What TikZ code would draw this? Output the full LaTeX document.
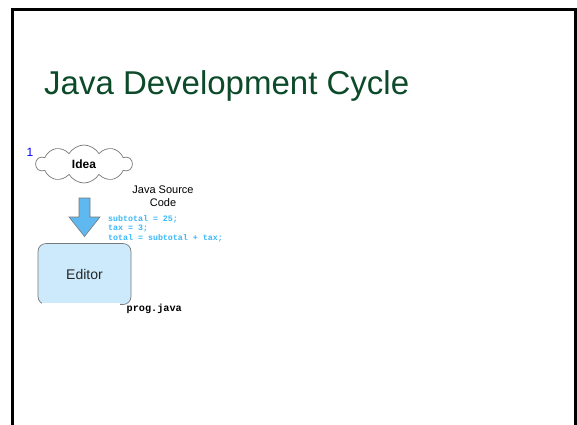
\documentclass[tikz,border=0pt]{standalone}
\usepackage{fontspec}
\setmainfont{Liberation Sans}
\setmonofont{Liberation Mono}
\usetikzlibrary{shapes.symbols}
\definecolor{titlegreen}{RGB}{12,74,42}
\definecolor{codeblue}{RGB}{60,185,250}
\definecolor{arrowblue}{RGB}{95,185,240}
\definecolor{editorfill}{RGB}{204,234,252}
\definecolor{edgegray}{RGB}{120,120,120}
\begin{document}
\begin{tikzpicture}[x=1pt,y=-1pt,
  codetext/.style={font=\ttfamily\bfseries\fontsize{8.3}{10}\selectfont, text=codeblue, anchor=west, inner sep=0pt},
  ideacloud/.style={cloud, cloud puffs=10, cloud puff arc=120, aspect=2.6, draw=edgegray, fill=white, line width=0.7pt, minimum width=96pt, minimum height=38pt, inner sep=0pt},
  editorbox/.style={draw=edgegray, fill=editorfill, rounded corners=8pt, line width=0.7pt, minimum width=93pt, minimum height=61pt, inner sep=0pt}]
\useasboundingbox (0,0) rectangle (577,424);
\fill[white] (0,0) rectangle (577,424);
% frame
\draw[line width=3pt] (12.5,430) -- (12.5,9.5) -- (575.5,9.5) -- (575.5,430);
% title
\node[anchor=base west, inner sep=0pt, text=titlegreen, font=\fontsize{33}{38}\selectfont] (title) at (44,94) {Java Development Cycle};
% step number
\node[text=blue, font=\fontsize{12}{14}\selectfont, inner sep=0pt] (num) at (30,152) {1};
% idea cloud
\node[ideacloud] (idea) at (84,164) {};
\node[font=\bfseries\fontsize{12}{14}\selectfont, inner sep=0pt] (ideatext) at (84,164) {Idea};
% arrow
\draw[draw=edgegray, fill=arrowblue, line width=0.6pt, line join=miter]
  (79,198) -- (90,198) -- (90,217) -- (100,217) -- (84.5,236.5) -- (69,217) -- (79,217) -- cycle;
% java source code label
\node[align=center, font=\fontsize{11}{13}\selectfont, inner sep=0pt] (jsc) at (163,196.5) {Java Source\\Code};
% code lines
\node[codetext] (c1) at (108,219) {subtotal = 25;};
\node[codetext] (c2) at (108,228.5) {tax = 3;};
\node[codetext] (c3) at (108,238) {total = subtotal + tax;};
% editor
\node[editorbox] (editor) at (84.5,274) {};
\fill[white] (42,302.5) rectangle (120,307);
\node[font=\fontsize{14}{16}\selectfont, text=black!85, inner sep=0pt] (edtext) at (84.5,274) {Editor};
% file name
\node[font=\ttfamily\bfseries\fontsize{10.2}{12}\selectfont, anchor=west, inner sep=0pt] (prog) at (126.5,309) {prog.java};
\end{tikzpicture}
\end{document}
